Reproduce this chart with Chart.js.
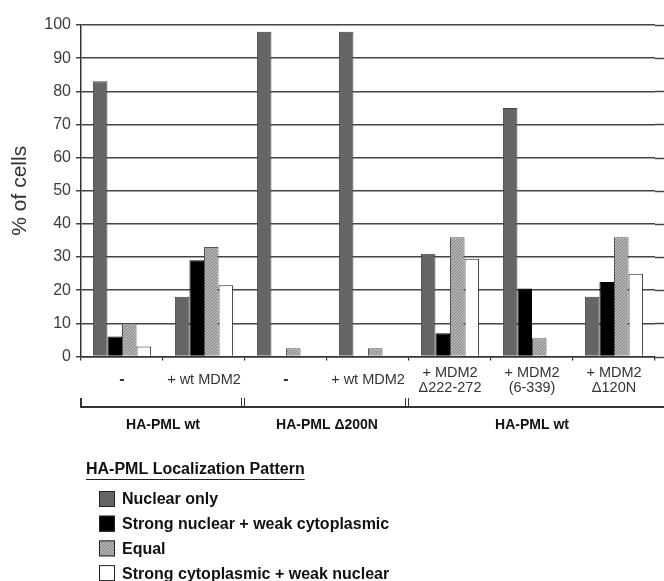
<!doctype html>
<html>
<head>
<meta charset="utf-8">
<title>HA-PML localization</title>
<script src="https://cdn.jsdelivr.net/npm/chart.js@4.4.0/dist/chart.umd.min.js"></script>
<style>
  html, body { margin: 0; padding: 0; background: #fff; }
  #wrap { width: 664px; height: 581px; }
</style>
</head>
<body>
<div id="wrap"><canvas id="myChart" width="664" height="581"></canvas></div>
<script>
// categories (x axis) and values, % of cells
var categories = [
  '-', '+ wt MDM2', '-', '+ wt MDM2',
  ['+ MDM2', '\u0394222-272'], ['+ MDM2', '(6-339)'], ['+ MDM2', '\u0394120N']
];
var nuclearOnly   = [83, 18, 98, 98, 31, 75, 18];
var strongNuclear = [6, 29, 0, 0, 7, 20.5, 22.5];
var equal         = [10, 33, 2.5, 2.5, 36, 5.5, 36];
var strongCyto    = [3, 21.5, 0, 0, 29.5, 0, 25];
var seriesNames = ['Nuclear only', 'Strong nuclear + weak cytoplasmic', 'Equal', 'Strong cytoplasmic + weak nuclear'];
var yTicks = [0, 10, 20, 30, 40, 50, 60, 70, 80, 90, 100];

// construct groups under the axis
var groupNames = ['HA-PML wt', 'HA-PML \u0394200N', 'HA-PML wt'];
var groupSpans = [[0, 1], [2, 3], [4, 6]];
var legendTitle = 'HA-PML Localization Pattern';

var FONT = '"Liberation Sans", Arial, sans-serif';

// hatch for the "Equal" bars
function makeHatch() {
  var c = document.createElement('canvas');
  c.width = 3; c.height = 3;
  var g = c.getContext('2d');
  g.fillStyle = '#b4b4b4';
  g.fillRect(0, 0, 3, 3);
  g.fillStyle = '#858585';
  g.fillRect(2, 0, 1, 1);
  g.fillRect(1, 1, 1, 1);
  g.fillRect(0, 2, 1, 1);
  return document.getElementById('myChart').getContext('2d').createPattern(c, 'repeat');
}
var hatch = makeHatch();

var extras = {
  id: 'extras',
  afterDraw: function(chart) {
    var ctx = chart.ctx;
    var area = chart.chartArea;
    var x = chart.scales.x, y = chart.scales.y;
    var W = chart.width;
    ctx.save();

    // gridlines run on to the edge of the picture
    ctx.strokeStyle = '#444';
    ctx.lineWidth = 1.5;
    yTicks.forEach(function(v) {
      var py = Math.round(y.getPixelForValue(v)) + 0.5;
      ctx.beginPath();
      ctx.moveTo(area.right, py);
      ctx.lineTo(W, py);
      ctx.stroke();
    });

    // group bracket
    var by = 407, btop = 398;
    ctx.strokeStyle = '#333';
    ctx.lineWidth = 2;
    ctx.beginPath();
    ctx.moveTo(area.left, btop);
    ctx.lineTo(area.left, by);
    ctx.lineTo(W, by);
    ctx.stroke();
    ctx.lineWidth = 1;
    for (var i = 0; i < groupSpans.length - 1; i++) {
      var bx = x.getPixelForValue(groupSpans[i][1] + 0.5) - 3;
      [-1.5, 1.5].forEach(function(d) {
        ctx.beginPath();
        ctx.moveTo(Math.round(bx + d) + 0.5, btop);
        ctx.lineTo(Math.round(bx + d) + 0.5, by);
        ctx.stroke();
      });
    }

    ctx.fillStyle = '#111';
    ctx.font = 'bold 14px ' + FONT;
    ctx.textAlign = 'center';
    ctx.textBaseline = 'middle';
    groupNames.forEach(function(name, i) {
      var cx = (x.getPixelForValue(groupSpans[i][0]) + x.getPixelForValue(groupSpans[i][1])) / 2;
      ctx.fillText(name, cx, 425);
    });

    // legend
    ctx.textAlign = 'left';
    ctx.font = 'bold 16px ' + FONT;
    ctx.fillText(legendTitle, 86, 470);
    var tw = ctx.measureText(legendTitle).width;
    ctx.lineWidth = 1;
    ctx.strokeStyle = '#222';
    ctx.beginPath();
    ctx.moveTo(86, 479.5);
    ctx.lineTo(86 + tw, 479.5);
    ctx.stroke();

    chart.data.datasets.forEach(function(ds, i) {
      var cy = 499 + i * 24.7;
      ctx.fillStyle = ds.backgroundColor;
      ctx.fillRect(99, cy - 8, 16, 16);
      ctx.strokeStyle = '#222';
      ctx.lineWidth = 1;
      ctx.strokeRect(99.5, cy - 7.5, 15, 15);
      ctx.fillStyle = '#111';
      ctx.fillText(ds.label, 122, cy + 1);
    });
    ctx.restore();
  }
};

var ctx = document.getElementById('myChart').getContext('2d');
var myChart = new Chart(ctx, {
  type: 'bar',
  data: {
    labels: categories,
    datasets: [
      { label: seriesNames[0], data: nuclearOnly, backgroundColor: '#656565', borderColor: '#444', borderWidth: 1 },
      { label: seriesNames[1], data: strongNuclear, backgroundColor: '#000', borderColor: '#000', borderWidth: 1 },
      { label: seriesNames[2], data: equal, backgroundColor: hatch, borderColor: '#555', borderWidth: 1 },
      { label: seriesNames[3], data: strongCyto, backgroundColor: '#fff', borderColor: '#222', borderWidth: 1 }
    ]
  },
  options: {
    responsive: false,
    animation: false,
    layout: { padding: { left: 0, right: 9, top: 25, bottom: 184.5 } },
    datasets: { bar: { barPercentage: 1, categoryPercentage: 0.71 } },
    plugins: { legend: { display: false }, tooltip: { enabled: false } },
    scales: {
      x: {
        offset: true,
        grid: { drawOnChartArea: false, drawTicks: true, tickLength: 4, color: '#333', lineWidth: 1.2 },
        border: { color: '#333', width: 1.5 },
        ticks: {
          autoSkip: false, maxRotation: 0, crossAlign: 'center', padding: 12,
          color: '#333',
          font: function(c) {
            var dash = categories[c.index] === '-';
            return { family: FONT, size: dash ? 16 : 14.5, weight: dash ? 'bold' : 'normal', lineHeight: 1.05 };
          }
        },
        afterFit: function(scale) { scale.height = 40; }
      },
      y: {
        min: 0, max: 100,
        afterBuildTicks: function(scale) { scale.ticks = yTicks.map(function(v) { return { value: v }; }); },
        grid: { color: '#444', lineWidth: 1.5, tickLength: 5 },
        border: { color: '#333', width: 1.5 },
        ticks: {
          padding: 5, color: '#3c3c3c',
          font: { family: FONT, size: 16 }
        },
        title: {
          display: true, text: '% of cells', color: '#333',
          font: { family: FONT, size: 21 },
          padding: { top: 8, bottom: 0 }
        },
        afterFit: function(scale) { scale.width = 81; }
      }
    }
  },
  plugins: [extras]
});
</script>
</body>
</html>
